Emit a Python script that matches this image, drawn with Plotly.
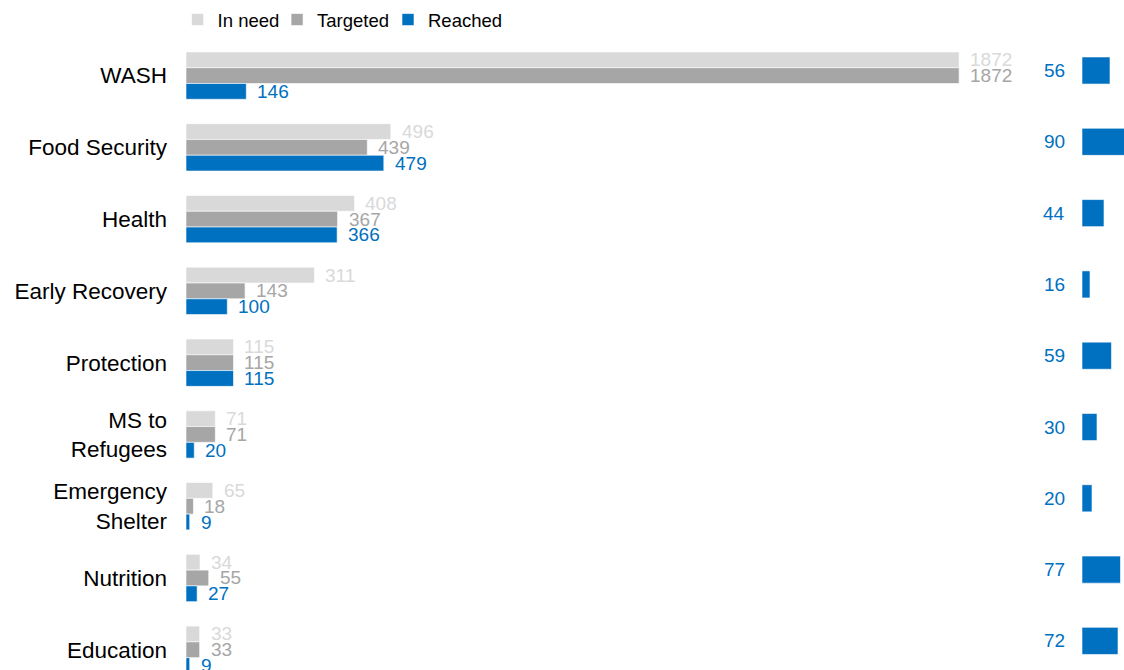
import plotly.graph_objects as go

categories = ["WASH", "Food Security", "Health", "Early Recovery", "Protection",
              "MS to<br>Refugees", "Emergency<br>Shelter", "Nutrition", "Education"]
in_need = [1872, 496, 408, 311, 115, 71, 65, 34, 33]
targeted = [1872, 439, 367, 143, 115, 71, 18, 55, 33]
reached = [146, 479, 366, 100, 115, 20, 9, 27, 9]
percent = [56, 90, 44, 16, 59, 30, 20, 77, 72]

C_NEED = "#D9D9D9"
C_TARG = "#A6A6A6"
C_REACH = "#0070C0"
FONT = "Liberation Sans, Arial, sans-serif"

idx = list(range(len(categories)))

fig = go.Figure()
series = [("In need", in_need, C_NEED, "legend"),
          ("Targeted", targeted, C_TARG, "legend2"),
          ("Reached", reached, C_REACH, "legend3")]
for name, vals, col, leg in series:
    fig.add_trace(go.Bar(
        x=vals, y=idx, orientation="h", name=name, legend=leg,
        marker=dict(color=col, line=dict(color="rgba(255,255,255,0.6)", width=1)),
        xaxis="x", yaxis="y", hoverinfo="x+name",
    ))

fig.add_trace(go.Bar(
    x=percent, y=idx, orientation="h", name="%", showlegend=False,
    marker=dict(color=C_REACH, line=dict(color="rgba(255,255,255,0.6)", width=1)),
    width=0.38, xaxis="x2", yaxis="y2",
))

BARGAP = 0.34
bw = (1 - BARGAP) / 3
annotations = []
for k, (name, vals, col, leg) in enumerate(series):
    for i, v in zip(idx, vals):
        annotations.append(dict(
            x=v, y=i + (k - 1) * bw, xref="x", yref="y", text=str(v),
            showarrow=False, xanchor="left", yanchor="middle", xshift=9,
            font=dict(family=FONT, size=19, color=col),
        ))
for i, v in zip(idx, percent):
    annotations.append(dict(
        x=0, y=i, xref="x2", yref="y2", text=str(v),
        showarrow=False, xanchor="right", yanchor="middle", xshift=-15,
        font=dict(family=FONT, size=19, color=C_REACH),
    ))

def legend_at(xfrac):
    return dict(orientation="h", x=xfrac, xanchor="left", y=1.0317, yanchor="middle",
                font=dict(family=FONT, size=18.5, color="black"),
                bgcolor="rgba(0,0,0,0)")

fig.update_layout(
    width=1124, height=670,
    margin=dict(l=0, r=0, t=40, b=0),
    paper_bgcolor="white", plot_bgcolor="white",
    barmode="group", bargap=BARGAP, bargroupgap=0,
    font=dict(family=FONT, color="black"),
    showlegend=True,
    legend=legend_at(0.158),
    legend2=legend_at(0.2465),
    legend3=legend_at(0.3452),
    xaxis=dict(domain=[0.16548, 0.88968], range=[0, 1971], visible=False, fixedrange=True),
    yaxis=dict(domain=[0, 1], range=[8.282, -0.496], tickmode="array", tickvals=idx,
               ticktext=categories, ticks="", showgrid=False, zeroline=False, showline=False,
               ticklabelstandoff=18, tickfont=dict(family=FONT, size=22.5, color="black")),
    xaxis2=dict(domain=[0.96263, 1], range=[0, 84], visible=False, anchor="y2"),
    yaxis2=dict(domain=[0, 1], range=[8.408, -0.428], visible=False, anchor="x2"),
    annotations=annotations,
)

fig.write_html("out.html", config={"displayModeBar": False},
               post_script="document.body.style.margin='0';document.body.style.overflow='hidden';")
